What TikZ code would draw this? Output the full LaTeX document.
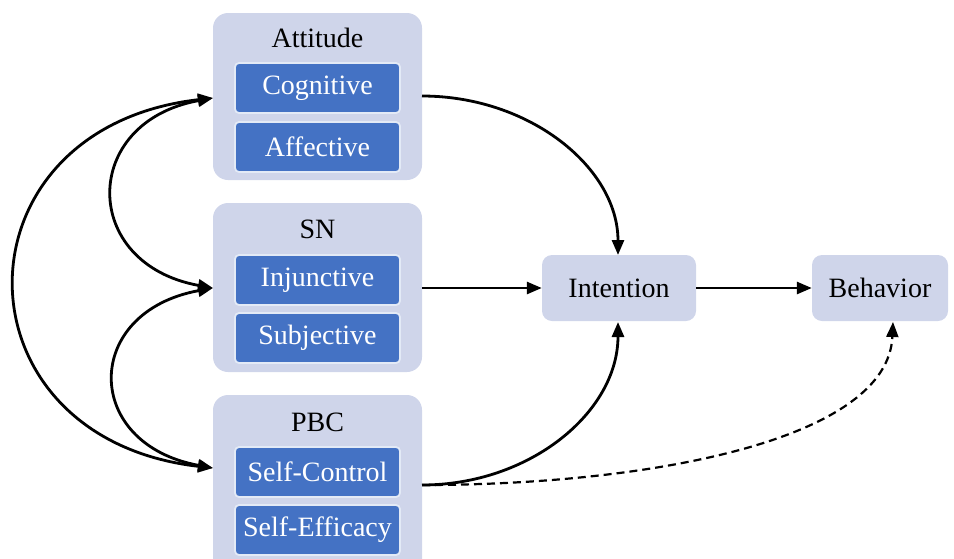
\documentclass[tikz,border=0pt]{standalone}
\usepackage{fontspec}
\setmainfont{Liberation Serif}
\usetikzlibrary{arrows.meta}
\definecolor{lightbox}{RGB}{207,213,234}
\definecolor{innerblue}{RGB}{68,114,196}
\tikzset{
  outerbox/.style={fill=lightbox, rounded corners=15pt, draw=none, minimum width=209pt, inner sep=0pt},
  innerbox/.style={fill=innerblue, draw=white!85!innerblue, line width=1.8pt, rounded corners=4pt, minimum width=165pt, minimum height=50pt, inner sep=0pt, text=white, font=\fontsize{28}{33}\selectfont},
  titletext/.style={inner sep=0pt, font=\fontsize{28}{33}\selectfont, text=black},
  smallbox/.style={fill=lightbox, rounded corners=10pt, draw=none, minimum height=66pt, inner sep=0pt, font=\fontsize{28}{33}\selectfont},
  conn/.style={line width=2.8pt, -{Triangle[length=15pt,width=12pt]}},
  biconn/.style={line width=2.8pt, {Triangle[length=15pt,width=12pt]}-{Triangle[length=15pt,width=12pt]}},
  dashconn/.style={line width=2.2pt, dash pattern=on 8pt off 5pt, -{Triangle[length=15pt,width=12pt]}}
}
\begin{document}
\begin{tikzpicture}[x=1pt,y=-1pt]
\useasboundingbox (0,0) rectangle (954,558);
\begin{scope}
\clip (0,0) rectangle (954,558);
% outer boxes
\node[outerbox, minimum height=167pt] (att) at (317.5,96.5) {};
\node[outerbox, minimum height=169pt] (sn) at (317.5,287.5) {};
\node[outerbox, minimum height=180pt] (pbc) at (317.5,485) {};
% titles
\node[titletext] (attT) at (317.5,38) {Attitude};
\node[titletext] (snT) at (317.5,229) {SN};
\node[titletext] (pbcT) at (317.5,422) {PBC};
% inner boxes
\node[innerbox] (cog) at (317.5,88) {Cognitive};
\node[innerbox] (aff) at (317.5,147) {Affective};
\node[innerbox] (inj) at (317.5,280) {Injunctive};
\node[innerbox] (sub) at (317.5,338) {Subjective};
\node[innerbox] (sc) at (317.5,472) {Self-Control};
\node[innerbox] (se) at (317.5,530) {Self-Efficacy};
% right boxes
\node[smallbox, minimum width=154pt] (int) at (619,288) {Intention};
\node[smallbox, minimum width=136pt] (beh) at (880,288) {Behavior};
\end{scope}
% anchor coordinates
\coordinate (aL) at (213,98);
\coordinate (sL) at (213,288);
\coordinate (pL) at (213,468);
\coordinate (aR) at (422,96);
\coordinate (sR) at (422,288);
\coordinate (pR) at (422,485);
\coordinate (iT) at (618,255);
\coordinate (iB) at (618,322);
\coordinate (bB) at (893,322);
% left correlation curves
\draw[biconn] (aL) .. controls (-50,128) and (-50,438) .. (pL);
\draw[biconn] (aL) .. controls (80,122) and (80,264) .. (sL);
\draw[biconn] (sL) .. controls (82,312) and (82,444) .. (pL);
% right paths
\draw[conn] (aR) .. controls (530,96) and (618,168) .. (iT);
\draw[conn] (sR) -- (int.west);
\draw[conn] (pR) .. controls (530,485) and (618,412) .. (iB);
\draw[dashconn] (pR) .. controls (650,485) and (888,440) .. (bB);
\draw[conn] (int.east) -- (beh.west);
\end{tikzpicture}
\end{document}
